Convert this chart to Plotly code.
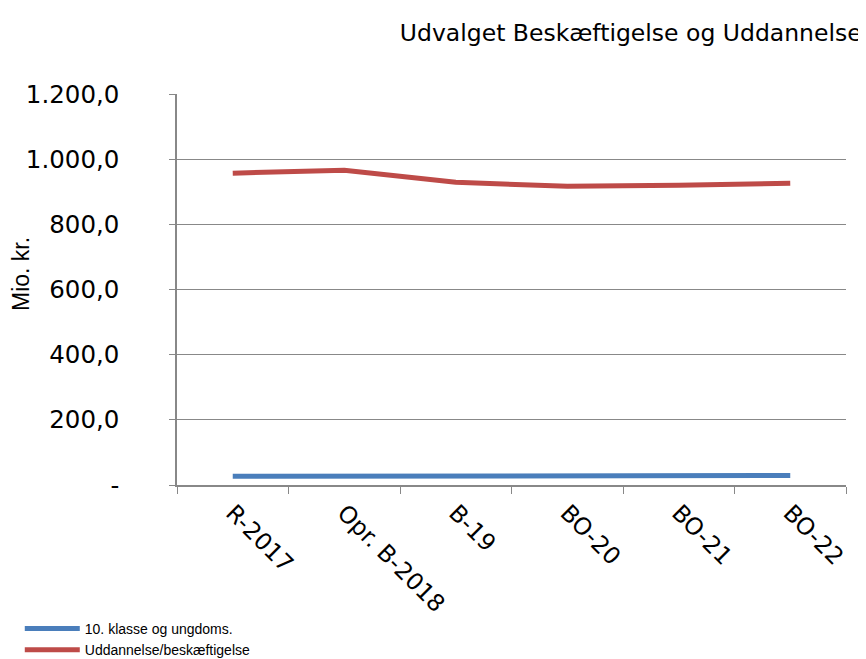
import plotly.graph_objects as go

# categories and values
categories = ['R-2017', 'Opr. B-2018', 'B-19', 'BO-20', 'BO-21', 'BO-22']
klasse_10 = [27, 28, 29, 29, 29, 29]
uddannelse = [957, 966, 929, 917, 920, 926]

y_ticks = [0, 200, 400, 600, 800, 1000, 1200]
y_labels = ['-', '200,0', '400,0', '600,0', '800,0', '1.000,0', '1.200,0']

fig = go.Figure()
fig.add_trace(go.Scatter(x=categories, y=klasse_10, mode='lines',
                         name='10. klasse og ungdoms.',
                         line=dict(color='#4A7EBB', width=5)))
fig.add_trace(go.Scatter(x=categories, y=uddannelse, mode='lines',
                         name='Uddannelse/beskæftigelse',
                         line=dict(color='#BE4B48', width=5)))

# the page body has an 8px margin, so the figure is 8px smaller
fig.update_layout(
    width=858, height=651,
    margin=dict(l=169, r=20, t=86, b=174, autoexpand=False),
    paper_bgcolor='white', plot_bgcolor='white',
    font=dict(family='DejaVu Sans', color='black'),
    title=dict(text='Udvalget Beskæftigelse og Uddannelse',
               font=dict(size=23.5, family='DejaVu Sans'),
               xref='container', x=0.995, xanchor='right',
               yref='container', y=0.962, yanchor='middle'),
    showlegend=True,
    legend=dict(x=-0.235, y=-0.327, xanchor='left', yanchor='top',
                orientation='v', itemwidth=55,
                font=dict(family='Liberation Sans', size=14),
                tracegroupgap=0, bgcolor='rgba(0,0,0,0)'),
)

fig.update_xaxes(
    type='category', tickangle=45,
    showline=True, linecolor='#888888', linewidth=1.5,
    ticks='outside', ticklen=7, tickcolor='#888888', tickson='boundaries',
    showgrid=False, tickfont=dict(size=23.5),
    range=[-0.5, 5.5], ticklabelstandoff=3,
)
fig.update_yaxes(
    range=[0, 1200], tickvals=y_ticks, ticktext=y_labels,
    showline=True, linecolor='#888888', linewidth=1.5,
    ticks='outside', ticklen=6, tickcolor='#888888',
    showgrid=True, gridcolor='#888888', gridwidth=1.2,
    zeroline=False, tickfont=dict(size=24.5), ticklabelstandoff=45,
)

fig.add_annotation(text='Mio. kr.', textangle=-90, showarrow=False,
                   xref='paper', yref='paper', x=-0.233, y=0.54,
                   xanchor='center', yanchor='middle',
                   font=dict(family='Liberation Sans', size=23))

fig.write_html("out.html")
